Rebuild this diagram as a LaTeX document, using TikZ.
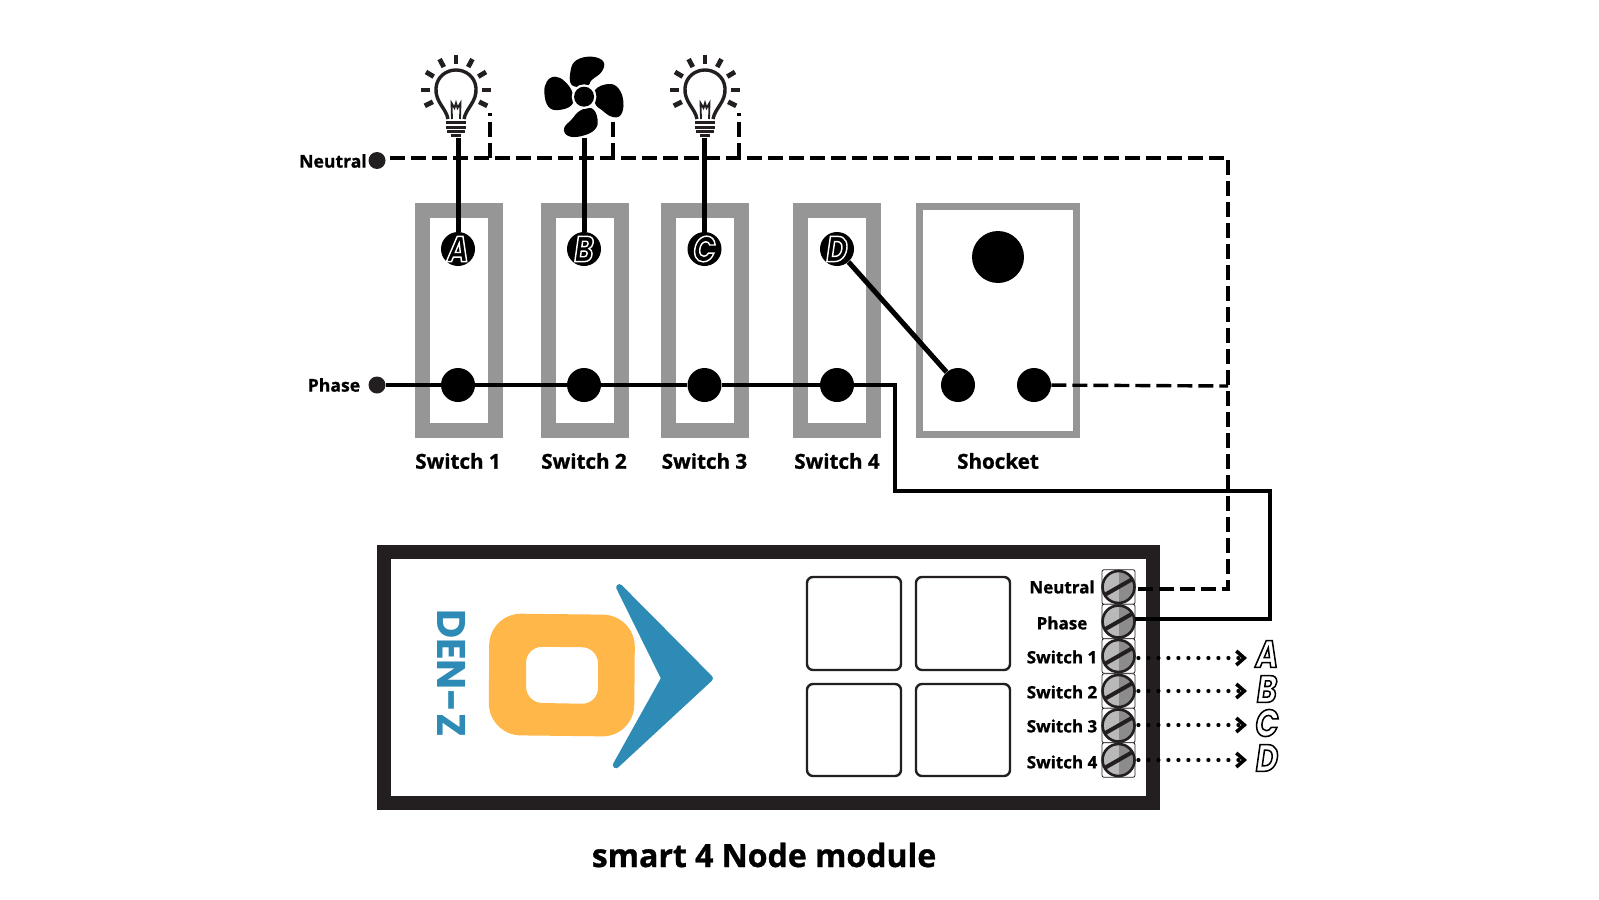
\documentclass[tikz,border=0pt]{standalone}
\usepackage{fontspec}
\setmainfont[BoldFeatures={FakeBold=1}]{Open Sans}
\newfontfamily\letterfont[UprightFont={* Bold Italic},FakeBold=4,FakeStretch=0.8]{Poppins}
\newfontfamily\logofont{Poppins}
\usetikzlibrary{arrows.meta}
\definecolor{dark}{HTML}{231F20}
\definecolor{frame}{HTML}{969696}
\definecolor{logoblue}{HTML}{2E8BB5}
\definecolor{logoorange}{HTML}{FFB74A}
\newcommand{\outA}[1]{\textcolor{white}{\special{pdf:code 0 0 0 RG}#1}}
\newcommand{\outB}[1]{\textcolor{black}{\special{pdf:code 1 1 1 RG}#1}}
\tikzset{
  switchframe/.style={draw=frame,line width=7.5pt,fill=white},
  socketframe/.style={draw=frame,line width=3.5pt,fill=white},
  dotnode/.style={circle,fill=black,inner sep=0pt,minimum size=17pt},
  lettnode/.style={circle,fill=black,inner sep=0pt,minimum size=17pt,font=\letterfont\fontsize{18}{18}\selectfont},
  sidelett/.style={inner sep=0pt,font=\letterfont\fontsize{19}{19}\selectfont},
  smalldot/.style={circle,fill=dark,inner sep=0pt,minimum size=8.5pt},
  lab/.style={inner sep=0pt,font=\bfseries\fontsize{10.3}{12}\selectfont},
  termlab/.style={inner sep=0pt,font=\bfseries\fontsize{8.5}{10}\selectfont},
  thinwire/.style={line width=1.6pt,black},
  thickwire/.style={line width=2.5pt,black},
  dashwire/.style={line width=1.7pt,black,dash pattern=on 7.5pt off 3pt},
  dotwire/.style={line width=2.1pt,black,line cap=round,dash pattern=on 0pt off 5pt,shorten <=1.5pt,-{Straight Barb[length=4pt,width=7pt,line width=1.8pt]}},
  button/.style={draw=dark,line width=1.2pt,rounded corners=3pt,fill=white},
  termbox/.style={draw=dark,line width=.4pt,rounded corners=1pt,inner sep=0pt,minimum width=16.5pt,minimum height=17.3pt,fill=white},
  screw/.pic={
    \fill[gray!55!white] (0,16) arc (90:270:16) -- cycle;
    \fill[gray!90!white] (0,16) arc (90:-90:16) -- cycle;
    \draw[dark,line width=1.3pt] (0,0) circle (16);
    \draw[dark,line width=2pt] (-14,8) -- (14,-8);
  },
  bulb/.pic={
    \foreach \a in {-90,-62,-31,0,27,-118,-149,180,153}
      \draw[dark,line width=2.4pt] (\a:26) -- (\a:35);
    \draw[dark,line width=1.7pt,line join=round]
      (-8,29) .. controls (-10,18) and (-21,12) .. (-20,-2)
      .. controls (-19,-14) and (-9,-20) .. (0,-20)
      .. controls (9,-20) and (19,-14) .. (20,-2)
      .. controls (21,12) and (10,18) .. (8,29);
    \draw[dark,line width=.9pt] (-4,29) -- (-4.5,13) -- (-1.5,18) -- (0,13) -- (1.5,18) -- (4.5,13) -- (4,29);
    \draw[dark,line width=1.5pt] (-10,32.5) -- (10,32.5);
    \draw[dark,line width=1.5pt] (-10,37) -- (10,37);
    \draw[dark,line width=1.5pt] (-9,41) -- (9,41);
    \draw[dark,line width=1.5pt] (-5,45) -- (5,45);
  },
}
\begin{document}
\begin{tikzpicture}[x=0.5pt,y=-0.5pt]
\useasboundingbox (0,0) rectangle (1599,899);
\fill[white] (0,0) rectangle (1599,899);

% switch frames
\draw[switchframe] (422,210.5) rectangle (495,430);
\draw[switchframe] (548,210.5) rectangle (621,430);
\draw[switchframe] (668,210.5) rectangle (741,430);
\draw[switchframe] (800,210.5) rectangle (873,430);
\draw[socketframe] (919.5,206.5) rectangle (1076.5,434.5);

% bulbs and fan
\path (456,90) pic {bulb};
\path (705,90) pic {bulb};
\begin{scope}[shift={(280,40)},x=0.1667pt,y=-0.1667pt]
  \fill[black] plot[smooth cycle,tension=.7] coordinates {(875,135)(872,90)(890,60)(935,50)(970,65)(965,95)(935,120)(920,138)};
  \fill[black] plot[smooth cycle,tension=.7] coordinates {(878,160)(855,125)(825,110)(800,125)(793,160)(805,200)(835,210)(875,195)};
  \fill[black] plot[smooth cycle,tension=.7] coordinates {(945,150)(985,132)(1015,145)(1030,185)(1022,225)(995,230)(965,210)(945,190)};
  \fill[black] plot[smooth cycle,tension=.7] coordinates {(900,212)(935,205)(952,235)(945,268)(905,288)(865,288)(852,265)(875,238)};
  \fill[white] (912,170) circle (37);
  \fill[black] (912,170) circle (30);
\end{scope}

% module
\draw[dark,line width=7pt,fill=white] (384,552) rectangle (1153,803);
\draw[button] (807,577) rectangle (901,670);
\draw[button] (916,577) rectangle (1010,670);
\draw[button] (807,684) rectangle (901,776);
\draw[button] (916,684) rectangle (1010,776);

% logo
\begin{scope}[shift={(400,570)},x=0.1667pt,y=-0.1667pt]
  \fill[logoorange,even odd rule]
    [rounded corners=16pt] (268,130) -- (705,135) -- (702,500) -- (266,495) -- cycle
    [rounded corners=8pt] (378,230) -- (594,232) -- (594,402) -- (378,398) -- cycle;
  \filldraw[logoblue,line width=3.2pt,line join=round] (658,52) -- (929,325) -- (648,585) -- (793,325) -- cycle;
\end{scope}
\node[rotate=-90,inner sep=0pt,text=logoblue,font=\logofont\bfseries\fontsize{20}{20}\selectfont] (denz) at (452,673) {DEN-Z};

% terminals
\node[termbox] (t0) at (1118.5,587) {};
\node[termbox] (t1) at (1118.5,621.5) {};
\node[termbox] (t2) at (1118.5,656) {};
\node[termbox] (t3) at (1118.5,691) {};
\node[termbox] (t4) at (1118.5,725.5) {};
\node[termbox] (t5) at (1118.5,760) {};
\foreach \n in {t0,t1,t2,t3,t4,t5} \path (\n) pic {screw};

% dots
\node[smalldot] (nd) at (377,160.5) {};
\node[smalldot] (pd) at (377,385) {};
\node[dotnode] (p1) at (458,385) {};
\node[dotnode] (p2) at (584,385) {};
\node[dotnode] (p3) at (704.5,385) {};
\node[dotnode] (p4) at (837,385) {};
\node[dotnode] (s1) at (958,385) {};
\node[dotnode] (s2) at (1034,385) {};
\node[circle,fill=black,inner sep=0pt,minimum size=26pt] (s0) at (998,257) {};
\node[lettnode] (a) at (458,249) {\outB{A}};
\node[lettnode] (b) at (584,249) {\outB{B}};
\node[lettnode] (c) at (704.5,249) {\outB{C}};
\node[lettnode] (d) at (837,249) {\outB{D}};

% wire corners and free ends
\coordinate (ns) at (390,158);
\coordinate (nc) at (1228,158);
\coordinate (nb) at (1228,589);
\coordinate (sc) at (1228,386);
\coordinate (b1) at (490,158);
\coordinate (b1t) at (490,113);
\coordinate (b2) at (613,158);
\coordinate (b2t) at (613,120);
\coordinate (b3) at (739,158);
\coordinate (b3t) at (739,113);
\coordinate (wa) at (458,138);
\coordinate (wb) at (584,138);
\coordinate (wc) at (704.5,138);
\coordinate (ph1) at (895,385);
\coordinate (ph2) at (895,491);
\coordinate (ph3) at (1270,491);
\coordinate (ph4) at (1270,619);
\coordinate (e2) at (1247,658);
\coordinate (e3) at (1247,691);
\coordinate (e4) at (1247,725);
\coordinate (e5) at (1247,760);

% wires
\draw[dashwire] (ns) -- (nc) -- (nb) -- (t0.east |- nb);
\draw[dashwire] (b1) -- (b1t);
\draw[dashwire] (b2) -- (b2t);
\draw[dashwire] (b3) -- (b3t);
\draw[dashwire] (s2) -- (sc);
\draw[thickwire] (wa) -- (a);
\draw[thickwire] (wb) -- (b);
\draw[thickwire] (wc) -- (c);
\draw[thickwire] (d) -- (s1);
\draw[thinwire] (pd) -- (p1) -- (p2) -- (p3) -- (p4) -- (ph1) -- (ph2) -- (ph3) -- (ph4) -- (t1.east |- ph4);
\draw[dotwire] (t2.east |- e2) -- (e2);
\draw[dotwire] (t3.east |- e3) -- (e3);
\draw[dotwire] (t4.east |- e4) -- (e4);
\draw[dotwire] (t5.east |- e5) -- (e5);

% labels
\node[lab,font=\bfseries\fontsize{8.8}{10}\selectfont] (ln) at (333,161) {Neutral};
\node[lab,font=\bfseries\fontsize{8.8}{10}\selectfont] (lp) at (334,385) {Phase};
\node[lab] (l1) at (458,461) {Switch 1};
\node[lab] (l2) at (584,461) {Switch 2};
\node[lab] (l3) at (704.5,461) {Switch 3};
\node[lab] (l4) at (837,461) {Switch 4};
\node[lab] (l5) at (998,461) {Shocket};
\node[termlab] (tl0) at (1062,587) {Neutral};
\node[termlab] (tl1) at (1062,623) {Phase};
\node[termlab] (tl2) at (1062,657) {Switch 1};
\node[termlab] (tl3) at (1062,692) {Switch 2};
\node[termlab] (tl4) at (1062,726) {Switch 3};
\node[termlab] (tl5) at (1062,762) {Switch 4};
\node[inner sep=0pt,font=\bfseries\fontsize{16}{18}\selectfont] (title) at (764,855) {smart 4 Node module};
\node[sidelett,anchor=center] (la) at (1267,654) {\outA{A}};
\node[sidelett,anchor=center] (lb) at (1267,689) {\outA{B}};
\node[sidelett,anchor=center] (lc) at (1267,723) {\outA{C}};
\node[sidelett,anchor=center] (ld) at (1267,758) {\outA{D}};
\end{tikzpicture}
\end{document}
